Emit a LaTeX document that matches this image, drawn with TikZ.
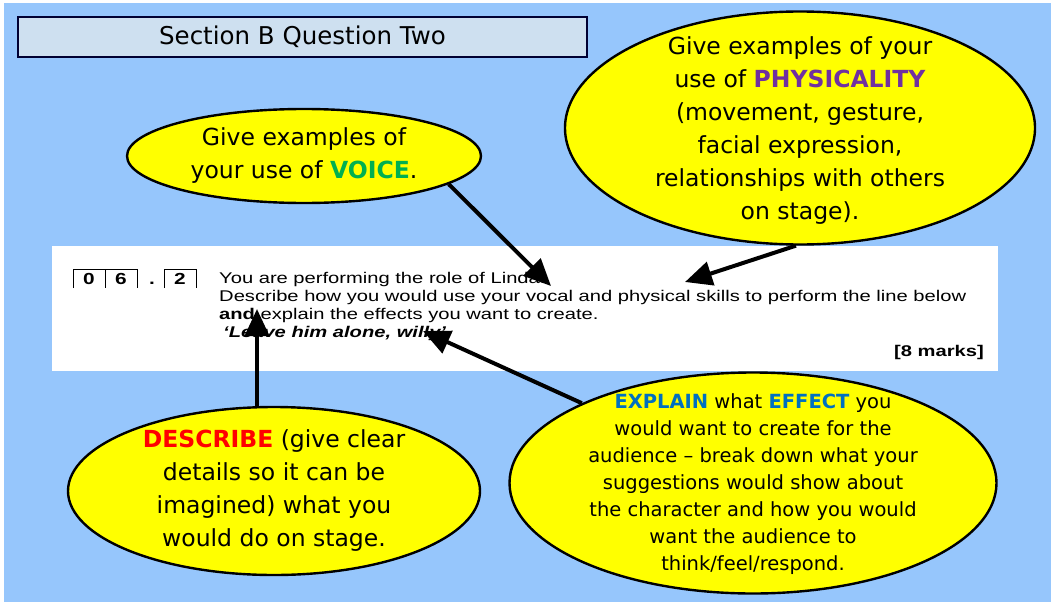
\documentclass[tikz,border=0pt]{standalone}
\usepackage{fontspec}
\setmainfont{Liberation Sans}
\newfontfamily\widefont[FakeStretch=1.3]{Liberation Sans}
\newfontfamily\comicfont{DejaVu Sans}
\usetikzlibrary{arrows.meta,shapes.geometric}

\definecolor{skyblue}{RGB}{150,198,252}
\definecolor{titlegrey}{RGB}{206,224,240}
\definecolor{voicegreen}{RGB}{0,176,80}
\definecolor{physpurple}{RGB}{112,48,160}
\definecolor{explblue}{RGB}{0,112,192}
\definecolor{bubbleyellow}{RGB}{255,255,0}

\tikzset{
  bubble/.style={ellipse, draw=black, line width=2.4pt, fill=bubbleyellow, inner sep=0pt},
  bubbletext/.style={align=center, font=\comicfont\fontsize{23.5}{33}\selectfont},
  qtext/.style={anchor=base west, inner sep=0pt, font=\widefont\fontsize{15.5}{18}\selectfont},
  numbox/.style={anchor=base, inner sep=0pt, font=\widefont\bfseries\fontsize{16}{18}\selectfont},
  arr/.style={line width=4pt, -{Triangle[length=27pt,width=24pt]}}
}

\begin{document}
\begin{tikzpicture}[x=1pt,y=-1pt]
\useasboundingbox (0,0) rectangle (1051,602);
\fill[white] (0,0) rectangle (1051,602);
\fill[skyblue] (4,3) rectangle (1051,602);

% Title:
\node [draw=black!80!blue, line width=1.2pt, fill=titlegrey, minimum width=569pt,
       minimum height=40pt, font=\comicfont\fontsize{24.5}{28}\selectfont] (title) at (302.5,37)
      {Section B Question Two};

% Question:
\node [fill=white, inner sep=0pt, minimum width=946pt, minimum height=125pt] (question) at (525,308.5) {};
\draw [thin] (73,288) |- (137,269) -- (137,288);
\draw [thin] (105,269) -- (105,288);
\draw [thin] (164,288) |- (196,269) -- (196,288);
\node [numbox] (d0) at (89,284) {0};
\node [numbox] (d6) at (121,284) {6};
\node [numbox] (dot) at (152,284) {.};
\node [numbox] (d2) at (180,284) {2};
\node [qtext] (line1) at (219,283) {You are performing the role of Linda.};
\node [qtext] (line2) at (219,301) {Describe how you would use your vocal and physical skills to perform the line below};
\node [qtext] (line3) at (219,319) {\textbf{and} explain the effects you want to create.};
\node [qtext] (line4) at (223,337) {\textbf{\textit{‘Leave him alone, willy’}}};
\node [qtext, anchor=base east] (marks) at (984,356) {\textbf{[8 marks]}};

% Bubbles
\node [bubble, minimum width=354pt, minimum height=94pt] (voice) at (304,156) {};
\node [bubbletext] (voicetxt) at (voice) {Give examples of\\your use of \textcolor{voicegreen}{\bfseries VOICE}.};

\node [bubble, minimum width=470pt, minimum height=233pt] (phys) at (800,128) {};
\node [bubbletext] (phystxt) at (800,131) {Give examples of your\\use of \textcolor{physpurple}{\bfseries PHYSICALITY}\\(movement, gesture,\\facial expression,\\relationships with others\\on stage).};

\node [bubble, minimum width=412pt, minimum height=168pt] (desc) at (274,491) {};
\node [bubbletext] (desctxt) at (274,491) {\textcolor{red}{\bfseries DESCRIBE} (give clear\\details so it can be\\imagined) what you\\would do on stage.};

\node [bubble, minimum width=487pt, minimum height=221pt] (expl) at (753,483) {};
\node [bubbletext, font=\comicfont\fontsize{19.5}{27}\selectfont] (expltxt) at (753,484)
      {\textcolor{explblue}{\bfseries EXPLAIN} what \textcolor{explblue}{\bfseries EFFECT} you\\would want to create for the\\audience – break down what your\\suggestions would show about\\the character and how you would\\want the audience to\\think/feel/respond.};

% Arrows
\coordinate (tipvoice) at (551,286);
\coordinate (tipphys) at (685,282);
\coordinate (tipdesc) at (257,309);
\coordinate (tipexpl) at (423,331);
\draw [arr] (voice.-11) -- (tipvoice);
\draw [arr] (phys.-92) -- (tipphys);
\draw [arr] (tipdesc |- desc.north) -- (tipdesc);
\draw [arr] (expl.155) -- (tipexpl);

\end{tikzpicture}
\end{document}
